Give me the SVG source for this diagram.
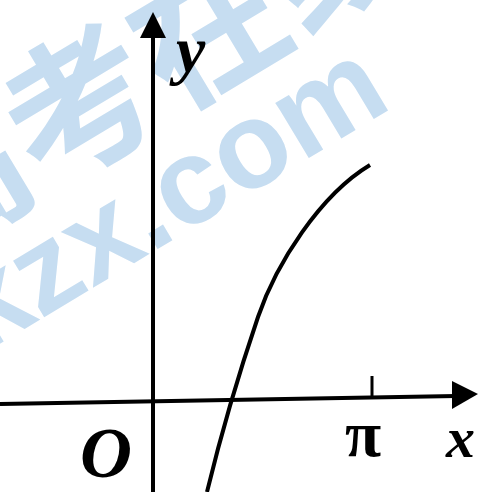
<svg xmlns="http://www.w3.org/2000/svg" width="485" height="492" viewBox="0 0 485 492">
<style>
.wm{fill:#c6ddf1;font-family:"Liberation Sans","Noto Sans CJK SC",sans-serif;font-weight:bold}
.ax{stroke:#000;fill:none;stroke-linecap:butt}
.lbl{font-family:"Liberation Serif","DejaVu Serif",serif;fill:#000}
</style>
<rect width="485" height="492" fill="#fff"/>
<g id="watermark">
<text class="wm" transform="translate(-85,268) rotate(-31)" font-size="150" font-family="Noto Sans CJK SC,sans-serif">高考在线</text>
<text class="wm" transform="translate(-82,393) rotate(-31)" font-size="122">gkzx.com</text>
</g>
<g id="axes">
<line class="ax" x1="153" y1="32" x2="153" y2="492" stroke-width="4"/>
<polygon points="153,12 140,38 166,38" fill="#000"/>
<line class="ax" x1="0" y1="404" x2="456" y2="396" stroke-width="4"/>
<polygon points="478,394 452,381 452,409" fill="#000"/>
<line class="ax" x1="372" y1="376" x2="372" y2="398" stroke-width="3"/>
</g>
<g id="curve">
<path class="ax" stroke-width="4" d="M207,492 C222,430 240,370 258,317 C276,264 320,195 370,165"/>
</g>
<g id="labels">
<text class="lbl" x="176" y="72" font-size="66" font-style="italic" font-weight="bold">y</text>
<text class="lbl" x="80" y="477" font-size="72" font-style="italic" font-weight="bold">O</text>
<text class="lbl" x="345" y="456" font-size="66" font-weight="bold">π</text>
<text class="lbl" x="446" y="457" font-size="58" font-style="italic" font-weight="bold">x</text>
</g>
</svg>
